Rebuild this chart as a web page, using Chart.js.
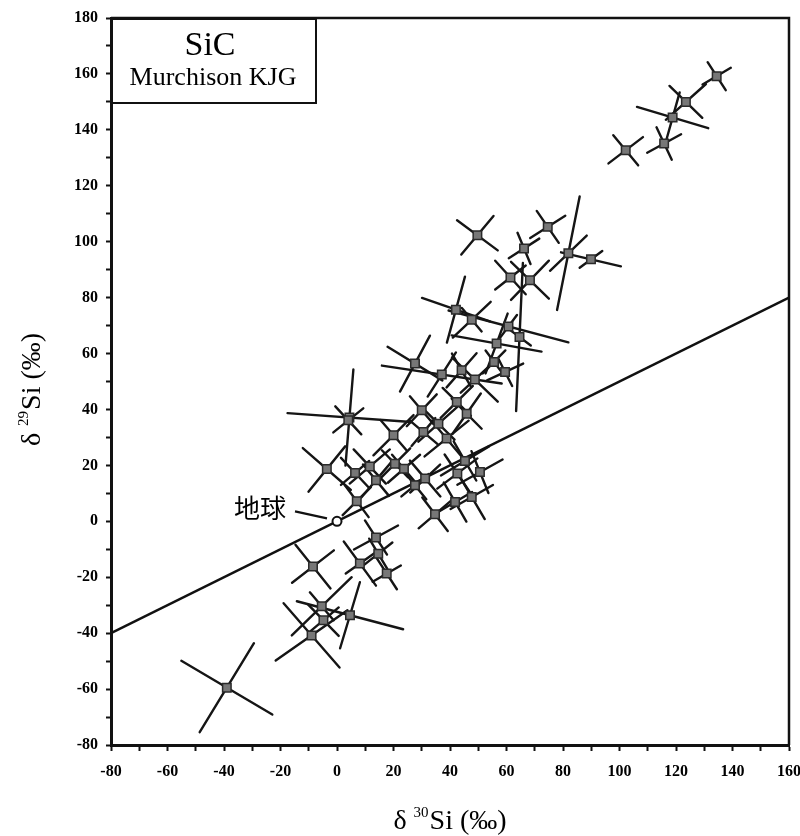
<!DOCTYPE html>
<html>
<head>
<meta charset="utf-8">
<script src="https://cdn.jsdelivr.net/npm/chart.js@4.4.1/dist/chart.umd.min.js"></script>
<style>
  html, body { margin: 0; padding: 0; background: #fff; }
</style>
</head>
<body>
<canvas id="sic" width="800" height="836"></canvas>
<script>
// grain centres (permil)
const grainX = [134.4, 123.5, 118.8, 115.8, 102.2, 49.7, 74.6, 66.2, 81.9, 89.9,
  61.4, 68.3, 42.1, 47.7, 60.7, 64.6, 56.5, 27.6, 37.1, 44.1,
  48.8, 59.5, 55.6, 4.4, 4.0, -3.6, 6.4, 11.6, 13.8, 20.0,
  20.5, 23.7, 31.2, 27.6, 7.0, 30.0, 30.6, 35.9, 38.8, 42.4,
  45.9, 45.3, 42.6, 50.6, 47.7, 41.8, 34.7, 13.8, 14.6, 8.1,
  17.6, -8.5, -5.4, -4.8, 4.6, -9.0, -39.0];
const grainY = [159.2, 150.0, 144.4, 135.1, 132.7, 102.3, 105.3, 97.6, 95.9, 93.7,
  87.2, 86.2, 75.7, 72.1, 69.7, 65.9, 63.6, 56.4, 52.5, 54.0,
  50.7, 53.4, 57.0, 37.1, 36.1, 18.7, 17.3, 19.6, 14.7, 30.8,
  20.6, 18.8, 15.3, 12.9, 7.2, 39.7, 31.9, 34.9, 29.6, 42.7,
  38.5, 21.6, 17.1, 17.6, 8.7, 6.9, 2.5, -5.8, -11.6, -15.1,
  -18.7, -16.2, -30.4, -35.4, -33.6, -40.8, -59.5];

// error ellipse axes, as half vectors (permil)
const errAX = [3.2, 5.8, 12.6, 6.0, 4.4, 7.2, 3.9, 5.4, 4.0, 10.6,
  5.4, 6.7, 12.0, 6.7, 21.2, 1.2, 15.9, 9.7, 21.2, 5.3,
  8.1, 6.4, 4.0, 21.9, 4.6, 8.5, 5.0, 5.7, 4.6, 4.6,
  4.6, 4.2, 5.3, 4.0, 4.2, 5.3, 4.2, 7.1, 7.8, 5.7,
  5.0, 8.5, 7.1, 8.0, 7.5, 6.0, 5.8, 3.9, 5.0, 5.7,
  5.0, 6.2, 10.6, 5.4, 18.8, 12.7, 16.1];
const errAY = [-5.0, -5.7, -3.8, 3.3, -5.4, -5.4, -5.7, 3.5, 20.3, -2.5,
  -6.0, 7.0, -4.2, 6.4, -5.7, 26.5, -2.9, -6.0, -3.2, 6.1,
  -7.9, 3.0, 4.1, -1.6, -5.0, -7.5, -5.4, -6.1, -5.6, -5.4,
  -4.8, -5.0, 5.0, -5.0, -5.7, 5.7, 5.0, 6.4, 6.4, 5.7,
  7.2, 5.2, 5.4, 4.5, 4.3, 3.6, 5.0, -6.1, 4.0, -7.9,
  2.9, -7.8, 10.4, -5.6, -5.0, 9.0, -9.6];
const errBX = [5.0, 7.1, 2.5, 2.7, 6.1, 5.7, 6.2, 2.3, 6.5, 4.0,
  5.4, 6.7, 3.2, 3.5, 3.0, 4.0, 3.9, 5.3, 5.0, 3.4,
  5.0, 2.5, 3.0, 1.4, 5.3, 6.5, 5.0, 7.1, 5.2, 7.1,
  5.4, 5.7, 5.4, 4.8, 5.0, 4.2, 5.0, 5.7, 5.3, 5.0,
  5.3, 4.0, 4.5, 3.0, 4.6, 4.0, 4.5, 7.8, 3.2, 5.0,
  3.6, 7.4, 4.2, 5.4, 3.5, 9.9, 9.6];
const errBY = [3.0, 6.4, 9.0, -5.8, 4.7, 6.9, 4.0, -5.6, 6.3, 3.0,
  4.3, -6.6, 11.8, -4.2, 4.1, -3.0, 10.7, 10.0, 7.9, -6.0,
  4.7, -5.0, -4.1, 17.2, 4.3, 8.1, 4.3, 6.1, 6.2, 7.2,
  5.5, 5.0, -6.4, 4.0, 5.0, -5.0, -4.3, -5.7, -6.4, -5.0,
  -5.4, -7.0, -6.8, -7.5, -7.9, -7.0, -6.0, 4.3, -5.4, 3.6,
  -5.6, 5.8, -5.0, 4.6, 11.8, -11.5, 15.9];

// terrestrial composition and the slope-1/2 mass fractionation line
const earthX = [0];
const earthY = [0];
const lineX = [-80, 160];
const lineY = [-40, 80];

const xTickLabels = [-80, -60, -40, -20, 0, 20, 40, 60, 80, 100, 120, 140, 160];
const yTickLabels = [-80, -60, -40, -20, 0, 20, 40, 60, 80, 100, 120, 140, 160, 180];

const serif = '"Liberation Serif", "Times New Roman", serif';

const errorCrosses = {
  id: 'errorCrosses',
  beforeDatasetsDraw(chart) {
    const { ctx, chartArea, scales: { x, y } } = chart;
    ctx.save();
    ctx.beginPath();
    ctx.rect(chartArea.left, chartArea.top, chartArea.width, chartArea.height);
    ctx.clip();
    ctx.strokeStyle = '#151515';
    ctx.lineWidth = 2.4;
    ctx.lineCap = 'round';
    grainX.forEach((gx, i) => {
      const gy = grainY[i];
      [[errAX[i], errAY[i]], [errBX[i], errBY[i]]].forEach(([dx, dy]) => {
        ctx.beginPath();
        ctx.moveTo(x.getPixelForValue(gx - dx), y.getPixelForValue(gy - dy));
        ctx.lineTo(x.getPixelForValue(gx + dx), y.getPixelForValue(gy + dy));
        ctx.stroke();
      });
    });
    ctx.restore();
  }
};

function deltaLabel(ctx, mass, cx, cy) {
  const big = '28px ' + serif, small = '15px ' + serif;
  ctx.font = big;
  const w1 = ctx.measureText('δ ').width;
  const w3 = ctx.measureText('Si (‰)').width;
  ctx.font = small;
  const w2 = ctx.measureText(mass).width + 1;
  let xx = cx - (w1 + w2 + w3) / 2;
  ctx.textAlign = 'left';
  ctx.textBaseline = 'alphabetic';
  ctx.font = big;
  ctx.fillText('δ ', xx, cy);
  xx += w1;
  ctx.font = small;
  ctx.fillText(mass, xx, cy - 12);
  xx += w2;
  ctx.font = big;
  ctx.fillText('Si (‰)', xx, cy);
}

const decorations = {
  id: 'decorations',
  afterDraw(chart) {
    const { ctx, chartArea: a, scales: { x, y } } = chart;
    ctx.save();
    ctx.strokeStyle = '#111';
    ctx.fillStyle = '#000';

    // top and right frame
    ctx.lineWidth = 2.5;
    ctx.beginPath();
    ctx.moveTo(a.left, a.top);
    ctx.lineTo(a.right, a.top);
    ctx.lineTo(a.right, a.bottom);
    ctx.stroke();

    // sample box
    ctx.lineWidth = 2;
    ctx.fillStyle = '#fff';
    ctx.fillRect(a.left + 1, a.top + 1, 204, 84);
    ctx.strokeRect(a.left + 1, a.top + 1, 204, 84);
    ctx.fillStyle = '#000';
    ctx.textAlign = 'center';
    ctx.textBaseline = 'alphabetic';
    ctx.font = '34px ' + serif;
    ctx.fillText('SiC', a.left + 99, a.top + 37);
    ctx.font = '26px ' + serif;
    ctx.fillText('Murchison KJG', a.left + 102, a.top + 67);

    // Earth label
    const ex = x.getPixelForValue(earthX[0]);
    const ey = y.getPixelForValue(earthY[0]);
    ctx.lineWidth = 2.2;
    ctx.beginPath();
    ctx.moveTo(ex - 42, ey - 10);
    ctx.lineTo(ex - 10, ey - 3);
    ctx.stroke();
    ctx.font = '26px "Noto Sans CJK JP", "Noto Sans CJK SC", sans-serif';
    ctx.textAlign = 'right';
    ctx.textBaseline = 'middle';
    ctx.fillText('地球', ex - 51, ey - 13);

    // axis titles
    deltaLabel(ctx, '30', (a.left + a.right) / 2, 829);
    ctx.translate(40, (a.top + a.bottom) / 2 + 8);
    ctx.rotate(-Math.PI / 2);
    deltaLabel(ctx, '29', 0, 0);
    ctx.restore();
  }
};

const tickFont = { family: serif, size: 16, weight: 'bold' };

new Chart(document.getElementById('sic'), {
  type: 'scatter',
  data: {
    datasets: [
      {
        label: 'Earth',
        data: earthX.map((v, i) => ({ x: v, y: earthY[i] })),
        pointStyle: 'circle',
        pointRadius: 4.5,
        pointBackgroundColor: '#fff',
        pointBorderColor: '#111',
        pointBorderWidth: 2
      },
      {
        label: 'SiC grains',
        data: grainX.map((v, i) => ({ x: v, y: grainY[i] })),
        pointStyle: 'rect',
        pointRadius: 6,
        pointBackgroundColor: '#777',
        pointBorderColor: '#2a2a2a',
        pointBorderWidth: 1.5
      },
      {
        type: 'line',
        label: 'mass fractionation',
        data: lineX.map((v, i) => ({ x: v, y: lineY[i] })),
        borderColor: '#111',
        borderWidth: 2.5,
        pointRadius: 0,
        fill: false
      }
    ]
  },
  options: {
    responsive: false,
    animation: false,
    devicePixelRatio: 1,
    layout: { padding: { top: 18, right: 11, bottom: 0, left: 0 } },
    plugins: { legend: { display: false }, tooltip: { enabled: false } },
    scales: {
      x: {
        type: 'linear',
        min: -80, max: 160,
        afterFit(scale) { scale.height = 91; scale.paddingRight = 0; },
        border: { display: true, width: 3, color: '#111' },
        grid: { drawOnChartArea: false, drawTicks: true, tickLength: 6, tickWidth: 2, tickColor: '#111' },
        ticks: {
          stepSize: 10, autoSkip: false, maxRotation: 0, padding: 11,
          color: '#000', font: tickFont,
          callback: v => xTickLabels.includes(v) ? String(v) : ''
        }
      },
      y: {
        type: 'linear',
        min: -80, max: 180,
        afterFit(scale) { scale.width = 111; },
        border: { display: true, width: 3, color: '#111' },
        grid: { drawOnChartArea: false, drawTicks: true, tickLength: 5, tickWidth: 2, tickColor: '#111' },
        ticks: {
          stepSize: 10, autoSkip: false, padding: 8,
          color: '#000', font: tickFont,
          callback: v => yTickLabels.includes(v) ? String(v) : ''
        }
      }
    }
  },
  plugins: [errorCrosses, decorations]
});
</script>
</body>
</html>
